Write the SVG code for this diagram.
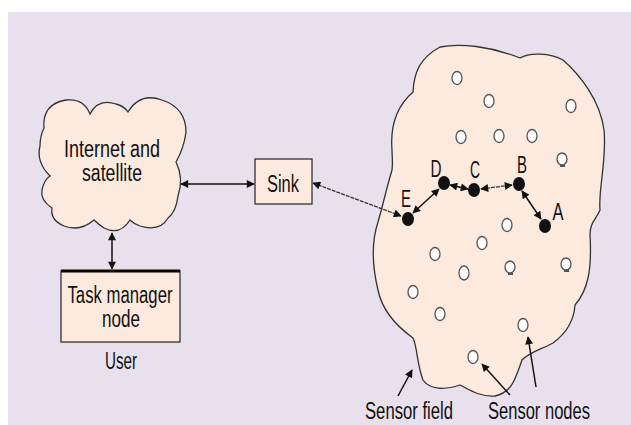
<svg xmlns="http://www.w3.org/2000/svg" width="631" height="425" viewBox="0 0 631 425">
<defs>
<marker id="ah" viewBox="0 0 10 10" refX="9" refY="5" markerWidth="9" markerHeight="8" markerUnits="userSpaceOnUse" orient="auto-start-reverse">
<path d="M0,0 L10,5 L0,10 Z" fill="#111"/>
</marker>
</defs>
<style>
.bg{fill:#e8e0ec}
.shape{fill:#fdeade;stroke:#333;stroke-width:1.3}
.lbl{font-family:"Liberation Sans",Arial,sans-serif;font-size:23px;fill:#111}
.mid{text-anchor:middle}
.con{stroke:#111;stroke-width:1.5;fill:none}
.thin{stroke:#333;stroke-width:1.3;fill:none;stroke-dasharray:4,1}
.bn{fill:#111}
.wn{fill:#fff;stroke:#555;stroke-width:1.3}
</style>
<rect width="631" height="425" fill="#fff"/>
<rect class="bg" x="8" y="12" width="623" height="413"/>

<g id="internet">
<path class="shape" d="M44,128 Q42,104 66,100 Q84,98 90,114 Q98,98 116,104 Q124,106 128,112 Q140,92 162,100 Q186,108 186,132 Q184,148 176,162 Q184,178 178,196 Q176,212 168,218 Q160,232 140,226 Q134,224 130,220 Q120,236 104,228 Q98,224 94,220 Q80,232 64,226 Q50,220 52,208 Q40,200 42,190 Q44,180 50,176 Q36,162 40,146 Q40,136 44,128 Z"/>
<text class="lbl mid" x="112" y="157" textLength="96" lengthAdjust="spacingAndGlyphs">Internet and</text>
<text class="lbl mid" x="112" y="181" textLength="60" lengthAdjust="spacingAndGlyphs">satellite</text>
</g>

<g id="task">
<rect class="shape" x="61" y="271" width="119" height="71"/>
<line x1="61" y1="271" x2="180" y2="271" stroke="#000" stroke-width="3"/>
<text class="lbl mid" x="120" y="303" textLength="105" lengthAdjust="spacingAndGlyphs">Task manager</text>
<text class="lbl mid" x="121" y="327" textLength="38" lengthAdjust="spacingAndGlyphs">node</text>
<text class="lbl mid" x="121" y="369" textLength="32" lengthAdjust="spacingAndGlyphs">User</text>
</g>

<g id="sink">
<rect class="shape" x="255" y="159" width="57" height="45"/>
<text class="lbl mid" x="283" y="192" textLength="32" lengthAdjust="spacingAndGlyphs">Sink</text>
</g>

<g id="field">
<path class="shape" d="M392,150 C390,125 398,105 413,92 C414,72 420,58 440,47 C460,43 490,46 520,58 C530,52 550,53 563,60 C580,75 600,100 604,130 C607,160 598,190 600,210 C596,220 590,222 590,235 C592,270 588,290 575,305 C574,320 568,332 553,343 C540,350 530,352 522,360 C515,380 512,392 495,396 C480,397 470,390 460,385 C445,390 430,390 423,380 C417,365 417,345 413,338 C395,325 382,310 378,290 C372,265 372,240 378,222 C383,205 386,190 392,170 C393,162 392,156 392,150 Z"/>
</g>

<g id="sensors">
<ellipse class="wn" cx="457" cy="78" rx="5" ry="6.5"/>
<ellipse class="wn" cx="489" cy="101" rx="5" ry="6.5"/>
<ellipse class="wn" cx="571" cy="106" rx="5" ry="6.5"/>
<ellipse class="wn" cx="461" cy="137" rx="5" ry="6.5"/>
<ellipse class="wn" cx="499" cy="136" rx="5" ry="6.5"/>
<ellipse class="wn" cx="532" cy="136" rx="5" ry="6.5"/>
<rect x="560" y="164" width="5" height="3" fill="#555"/>
<ellipse class="wn" cx="562" cy="159" rx="5" ry="6"/>
<ellipse class="wn" cx="507" cy="225" rx="5" ry="6.5"/>
<ellipse class="wn" cx="482" cy="243" rx="5" ry="6.5"/>
<ellipse class="wn" cx="435" cy="254" rx="5" ry="6.5"/>
<ellipse class="wn" cx="464" cy="273" rx="5" ry="7"/>
<rect x="508" y="272" width="5" height="3" fill="#555"/>
<ellipse class="wn" cx="510" cy="267" rx="5" ry="6"/>
<rect x="564" y="269" width="5" height="3" fill="#555"/>
<ellipse class="wn" cx="566" cy="264" rx="5" ry="6"/>
<ellipse class="wn" cx="413" cy="292" rx="5" ry="6.5"/>
<ellipse class="wn" cx="440" cy="314" rx="5" ry="6.5"/>
<ellipse class="wn" cx="523" cy="325" rx="5" ry="6.5"/>
<ellipse class="wn" cx="473" cy="357" rx="5" ry="6.5"/>
</g>

<g id="nodeE"><ellipse class="bn" cx="408" cy="219" rx="6" ry="7"/><text class="lbl mid" x="406" y="207" textLength="10" lengthAdjust="spacingAndGlyphs">E</text></g>
<g id="nodeD"><ellipse class="bn" cx="444" cy="183" rx="6" ry="7"/><text class="lbl mid" x="436" y="177" textLength="11" lengthAdjust="spacingAndGlyphs">D</text></g>
<g id="nodeC"><ellipse class="bn" cx="474" cy="190" rx="6" ry="7"/><text class="lbl mid" x="475" y="178" textLength="10" lengthAdjust="spacingAndGlyphs">C</text></g>
<g id="nodeB"><ellipse class="bn" cx="519" cy="184" rx="6" ry="7"/><text class="lbl mid" x="522" y="173" textLength="10" lengthAdjust="spacingAndGlyphs">B</text></g>
<g id="nodeA"><ellipse class="bn" cx="545" cy="226" rx="6" ry="7"/><text class="lbl mid" x="558" y="220" textLength="11" lengthAdjust="spacingAndGlyphs">A</text></g>

<g id="connectors">
<line class="con" x1="181" y1="184" x2="254" y2="184" marker-start="url(#ah)" marker-end="url(#ah)"/>
<line class="con" x1="112" y1="233" x2="112" y2="269" marker-start="url(#ah)" marker-end="url(#ah)"/>
<line class="thin" x1="313" y1="183" x2="401" y2="216" marker-start="url(#ah)" marker-end="url(#ah)"/>
<line class="con" x1="413" y1="213" x2="439" y2="189" marker-start="url(#ah)" marker-end="url(#ah)"/>
<line class="con" x1="450" y1="185" x2="468" y2="189" marker-start="url(#ah)" marker-end="url(#ah)"/>
<line class="thin" x1="481" y1="189" x2="512" y2="185" marker-start="url(#ah)" marker-end="url(#ah)"/>
<line class="con" x1="522" y1="191" x2="541" y2="219" marker-start="url(#ah)" marker-end="url(#ah)"/>
<line class="con" x1="398" y1="396" x2="412" y2="370" marker-end="url(#ah)"/>
<line class="con" x1="510" y1="395" x2="482" y2="364" marker-end="url(#ah)"/>
<line class="con" x1="536" y1="387" x2="528" y2="337" marker-end="url(#ah)"/>
</g>

<text class="lbl" x="365" y="419" textLength="88" lengthAdjust="spacingAndGlyphs">Sensor field</text>
<text class="lbl" x="488" y="419" textLength="102" lengthAdjust="spacingAndGlyphs">Sensor nodes</text>
</svg>
